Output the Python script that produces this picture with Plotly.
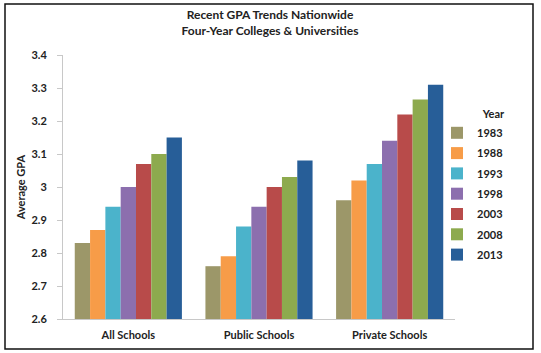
import plotly.graph_objects as go

categories = ["All Schools", "Public Schools", "Private Schools"]
years = ["1983", "1988", "1993", "1998", "2003", "2008", "2013"]
gpa_1983 = [2.83, 2.76, 2.96]
gpa_1988 = [2.87, 2.79, 3.02]
gpa_1993 = [2.94, 2.88, 3.07]
gpa_1998 = [3.00, 2.94, 3.14]
gpa_2003 = [3.07, 3.00, 3.22]
gpa_2008 = [3.10, 3.03, 3.265]
gpa_2013 = [3.15, 3.08, 3.31]
series = [gpa_1983, gpa_1988, gpa_1993, gpa_1998, gpa_2003, gpa_2008, gpa_2013]
colors = ["#9C9769", "#F79C48", "#4BB3CB", "#8C6FAE", "#B84B4A", "#8DAA4E", "#275E98"]
y_ticks = [2.6, 2.7, 2.8, 2.9, 3.0, 3.1, 3.2, 3.3, 3.4]
y_tick_labels = ["2.6", "2.7", "2.8", "2.9", "3", "3.1", "3.2", "3.3", "3.4"]
BASE = 2.6

FONT = "Lato"

fig = go.Figure()
for yr, vals, col in zip(years, series, colors):
    fig.add_trace(go.Bar(
        x=categories, y=[v - BASE for v in vals], base=BASE, name=yr,
        legendgroup=yr,
        marker=dict(color=col, line=dict(width=0)),
    ))

W, H = 541, 353
L, R, T, B = 63, 86, 55, 34
pw, ph = W - L - R, H - T - B

fig.update_layout(
    width=W, height=H,
    margin=dict(l=L, r=R, t=T, b=B, pad=0, autoexpand=False),
    paper_bgcolor="white", plot_bgcolor="white",
    barmode="group", bargap=0.18, bargroupgap=0,
    font=dict(family=FONT, size=11, color="#222222"),
    title=dict(
        text="<b>Recent GPA Trends Nationwide<br>Four-Year Colleges &amp; Universities</b>",
        x=270 / W, xanchor="center", yref="container", y=1 - 19 / H, yanchor="top",
        font=dict(family=FONT, size=12, color="#222222"),
    ),
    xaxis=dict(
        showgrid=False, showline=True, linecolor="#C8C8C8", linewidth=1,
        ticks="", tickfont=dict(family=FONT, size=11, color="#222222", weight="bold"),
        ticklabelstandoff=6,
    ),
    yaxis=dict(
        range=[2.6, 3.4], tickvals=y_ticks, ticktext=y_tick_labels,
        showgrid=False, showline=True, linecolor="#C8C8C8", linewidth=1,
        ticks="outside", ticklen=5, tickcolor="#C8C8C8",
        tickfont=dict(family=FONT, size=11, color="#222222", weight="bold"),
        ticklabelstandoff=8,
        title=dict(text="<b>Average GPA</b>", font=dict(family=FONT, size=11, color="#222222"), standoff=3),
        zeroline=False,
    ),
    legend=dict(
        title=dict(text="<b>Year</b>", font=dict(family=FONT, size=11), side="top right"),
        font=dict(family=FONT, size=11, weight="bold"),
        x=(437 - L) / pw, xanchor="left", y=(T + ph - 104) / ph, yanchor="top",
        itemwidth=30, bgcolor="rgba(0,0,0,0)", traceorder="grouped", tracegroupgap=1.3,
    ),
    showlegend=True,
)

fig.add_shape(
    type="rect", xref="paper", yref="paper",
    x0=(5 - L) / pw, x1=(533 - L) / pw,
    y0=(T + ph - 349) / ph, y1=(T + ph - 4) / ph,
    line=dict(color="#111111", width=1.5), fillcolor="rgba(0,0,0,0)", layer="below",
)

fig.write_html("out.html")
